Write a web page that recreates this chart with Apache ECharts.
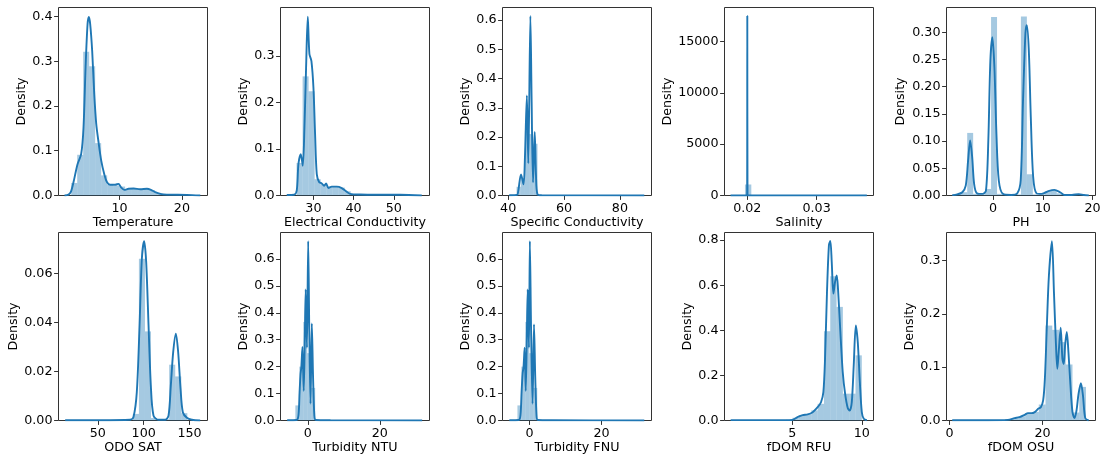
<!DOCTYPE html>
<html>
<head>
<meta charset="utf-8">
<script src="https://cdn.jsdelivr.net/npm/echarts@6/dist/echarts.min.js"></script>
<style>
  html, body { margin: 0; padding: 0; background: #fff; }
  #chart { width: 1107px; height: 459px; }
</style>
</head>
<body>
<div id="chart"></div>
<script>
// Variable names, in panel order (row by row)
const variableNames = ['Temperature', 'Electrical Conductivity', 'Specific Conductivity', 'Salinity', 'PH',
                       'ODO SAT', 'Turbidity NTU', 'Turbidity FNU', 'fDOM RFU', 'fDOM OSU'];

// ---- Temperature ----
const tempBinStart = 2.25, tempBinWidth = 0.96;
const tempDensity = [0.028, 0.091, 0.321, 0.289, 0.117, 0.045, 0.024, 0.022, 0.020, 0.014,
                     0.015, 0.014, 0.015, 0.012, 0.006, 0.003, 0.002, 0.001, 0.001, 0.001];
const tempKde = [[1.18,0],[1.82,0.002],[2.19,0.008],[2.62,0.03],[3.26,0.07],[3.85,0.093],[4.22,0.152],
  [4.55,0.286],[4.87,0.383],[5.08,0.399],[5.29,0.383],[5.61,0.323],[5.94,0.227],[6.26,0.16],[6.63,0.119],
  [7.06,0.078],[7.54,0.048],[7.97,0.03],[8.5,0.024],[9.3,0.024],[9.84,0.026],[10.21,0.0186],[10.75,0.0126],
  [11.44,0.015],[12.25,0.0156],[13.32,0.014],[14.39,0.015],[15.03,0.0126],[15.72,0.0074],[16.52,0.0037],
  [17.59,0.002],[20.8,0.0015],[22.94,0]];
const tempXRange = [0.21, 24.1], tempXTicks = [10, 20];
const tempYMax = 0.42, tempYTicks = [0, 0.1, 0.2, 0.3, 0.4];

// ---- Electrical Conductivity ----
const ecBinStart = 25.8, ecBinWidth = 1.5;
const ecDensity = [0.07, 0.256, 0.224, 0.035, 0.024, 0.02, 0.019, 0.017, 0.009, 0.003,
                   0.002, 0.002, 0.001, 0.001, 0.001, 0.001, 0.001, 0.001, 0.001];
const ecKde = [[23.36,0.001],[25.19,0.0015],[25.85,0.011],[26.27,0.068],[26.85,0.089],[27.34,0.064],
  [27.76,0.146],[28.17,0.275],[28.59,0.384],[29.0,0.304],[29.5,0.289],[30.0,0.232],[30.41,0.132],
  [30.83,0.046],[31.41,0.029],[32.07,0.026],[32.66,0.021],[33.15,0.026],[33.73,0.016],[34.56,0.019],
  [35.81,0.019],[37.05,0.016],[38.13,0.009],[39.13,0.0036],[41.62,0.002],[45.77,0.0015],[51.58,0.0015],[56.97,0]];
const ecXRange = [21.8, 58.9], ecXTicks = [30, 40, 50];
const ecYMax = 0.404, ecYTicks = [0, 0.1, 0.2, 0.3];

// ---- Specific Conductivity ----
const scBinStart = 43.0, scBinWidth = 1.5;
const scDensity = [0.03, 0.06, 0.22, 0.21, 0.177];
const scKde = [[40.36,0.001],[43.2,0.002],[43.6,0.015],[44.6,0.072],[45.5,0.038],[46.0,0.13],[46.7,0.342],
  [47.2,0.11],[47.95,0.614],[48.4,0.32],[48.9,0.045],[49.5,0.217],[49.95,0.07],[50.5,0.004],[52,0.001],[88.72,0]];
const scXRange = [37.97, 91.3], scXTicks = [40, 60, 80];
const scYMax = 0.643, scYTicks = [0, 0.1, 0.2, 0.3, 0.4, 0.5, 0.6];

// ---- Salinity ----
const salBinStart = 0.01966, salBinWidth = 0.00092;
const salDensity = [1071];
const salKde = [[0.01758,0],[0.01997,0],[0.02,17470],[0.02003,0],[0.03725,0]];
const salXRange = [0.01671, 0.03821], salXTicks = [0.02, 0.03];
const salYMax = 18300, salYTicks = [0, 5000, 10000, 15000];

// ---- PH ----
const phBinStart = -7.6, phBinWidth = 1.2;
const phDensity = [0.003, 0.006, 0.115, 0.003, 0.002, 0.012, 0.328, 0.003, 0.001, 0.001, 0.002,
                   0.329, 0.039, 0.002, 0.002, 0.008, 0.01, 0.004, 0.001, 0.001, 0.002, 0.001];
const phKde = [[-8.2,0.0006],[-7.19,0.002],[-6.17,0.006],[-5.49,0.018],[-5.02,0.064],[-4.61,0.101],[-4.2,0.0705],
  [-3.8,0.021],[-3.25,0.0043],[-2.1,0.003],[-1.42,0.009],[-0.95,0.101],[-0.54,0.248],[-0.14,0.291],[0.27,0.236],
  [0.68,0.113],[1.15,0.028],[1.97,0.003],[3.66,0.001],[4.88,0.004],[5.56,0.028],[6.03,0.175],[6.51,0.298],
  [6.78,0.313],[7.19,0.267],[7.59,0.144],[8.07,0.034],[8.75,0.004],[9.76,0.003],[11.12,0.008],[12.34,0.0104],
  [13.49,0.006],[14.37,0.001],[15.86,0.001],[17.22,0.0025],[18.24,0.001],[19.25,0]];
const phXRange = [-9.36, 20.6], phXTicks = [0, 10, 20];
const phYMax = 0.3454, phYTicks = [0, 0.05, 0.1, 0.15, 0.2, 0.25, 0.3];

// ---- ODO SAT ----
const odoBinStart = 88.2, odoBinWidth = 6.6;
const odoDensity = [0.0027, 0.0661, 0.0364, 0.001, 0.0003, 0.0005, 0.0228, 0.018, 0.003];
const odoKde = [[14.36,0.0001],[52.5,0.0001],[85.3,0.0003],[88.9,0.0014],[92.5,0.0116],[95.5,0.0389],[98.0,0.066],
  [100.5,0.0732],[102.7,0.0648],[105.3,0.0389],[107.8,0.0143],[110.7,0.002],[116.2,0.0003],[123.5,0.0003],
  [127.1,0.002],[129.6,0.0143],[132.2,0.028],[135.1,0.0355],[137.6,0.028],[140.2,0.013],[142.7,0.0034],
  [147.1,0.0011],[152.5,0.0003],[161.6,0]];
const odoXRange = [7.1, 169.6], odoXTicks = [50, 100, 150];
const odoYMax = 0.0768, odoYTicks = [0, 0.02, 0.04, 0.06];

// ---- Turbidity NTU ----
const ntuBinStart = -3.47, ntuBinWidth = 1.1;
const ntuDensity = [0.056, 0.2, 0.366, 0.25, 0.121];
const ntuKde = [[-5.74,0.001],[-3.15,0.002],[-2.6,0.02],[-2.3,0.105],[-2.04,0.17],[-1.8,0.2],[-1.5,0.273],
  [-1.15,0.11],[-0.85,0.3],[-0.6,0.487],[-0.25,0.27],[0.09,0.666],[0.4,0.33],[0.74,0.062],[1.1,0.36],
  [1.45,0.16],[1.8,0.02],[2.2,0.002],[6.3,0.001],[31.76,0]];
const ntuXRange = [-7.6, 33.8], ntuXTicks = [0, 20];
const ntuYMax = 0.698, ntuYTicks = [0, 0.1, 0.2, 0.3, 0.4, 0.5, 0.6];

// ---- Turbidity FNU ----
const fnuBinStart = -3.35, fnuBinWidth = 1.1;
const fnuDensity = [0.056, 0.2, 0.366, 0.25, 0.121];
const fnuKde = [[-5.6,0.001],[-3.0,0.002],[-2.5,0.02],[-2.2,0.105],[-1.9,0.175],[-1.65,0.2],[-1.35,0.27],
  [-1.05,0.11],[-0.75,0.3],[-0.5,0.487],[-0.15,0.27],[0.1,0.666],[0.45,0.33],[0.85,0.062],[1.25,0.357],
  [1.6,0.16],[1.95,0.02],[2.3,0.002],[6.3,0.001],[31.9,0]];
const fnuXRange = [-7.5, 33.9], fnuXTicks = [0, 20];
const fnuYMax = 0.698, fnuYTicks = [0, 0.1, 0.2, 0.3, 0.4, 0.5, 0.6];

// ---- fDOM RFU ----
const rfuBinStart = 0.94, rfuBinWidth = 0.453;
const rfuDensity = [0.001, 0.001, 0.001, 0.001, 0.001, 0.001, 0.001, 0.001, 0.003, 0.012,
                    0.024, 0.028, 0.045, 0.074, 0.396, 0.64, 0.504, 0.119, 0.119, 0.289];
const rfuKde = [[0.58,0.0015],[2.02,0.0015],[4.42,0.0015],[5.02,0.003],[5.38,0.015],[5.75,0.024],[6.11,0.027],
  [6.47,0.037],[6.83,0.059],[7.07,0.081],[7.24,0.126],[7.36,0.274],[7.5,0.57],[7.64,0.778],[7.74,0.796],
  [7.84,0.704],[7.96,0.563],[8.08,0.615],[8.2,0.644],[8.29,0.585],[8.46,0.393],[8.63,0.215],[8.8,0.119],
  [8.99,0.055],[9.13,0.044],[9.28,0.081],[9.42,0.244],[9.57,0.422],[9.71,0.348],[9.86,0.17],[10.0,0.037],
  [10.14,0.0074],[10.36,0.001]];
const rfuXRange = [0.14, 10.84], rfuXTicks = [5, 10];
const rfuYMax = 0.834, rfuYTicks = [0, 0.2, 0.4, 0.6, 0.8];

// ---- fDOM OSU ----
const osuBinStart = 1.8, osuBinWidth = 1.45;
const osuDensity = [0.001, 0.001, 0.001, 0.001, 0.001, 0.001, 0.001, 0.002, 0.004, 0.008,
                    0.013, 0.016, 0.03, 0.178, 0.17, 0.147, 0.105, 0.015, 0.063];
const osuKde = [[0.58,0.0006],[8.19,0.0006],[12.54,0.0012],[13.99,0.0044],[15.07,0.0063],[16.16,0.0106],
  [16.88,0.0138],[17.61,0.0138],[18.33,0.0157],[19.06,0.022],[19.64,0.025],[20.14,0.0376],[20.51,0.078],
  [20.94,0.178],[21.38,0.272],[22.03,0.336],[22.46,0.241],[22.9,0.141],[23.19,0.097],[23.48,0.128],
  [23.91,0.174],[24.28,0.116],[24.57,0.106],[24.86,0.141],[25.22,0.166],[25.58,0.128],[26.01,0.066],
  [26.45,0.0157],[26.88,0.0044],[27.32,0.019],[27.75,0.05],[28.26,0.07],[28.7,0.047],[29.2,0.0044],[29.93,0]];
const osuXRange = [-0.65, 31.4], osuXTicks = [0, 20];
const osuYMax = 0.3525, osuYTicks = [0, 0.1, 0.2, 0.3];

// Assemble per-panel settings from the arrays above
const panels = [
  { hist: [tempBinStart, tempBinWidth, tempDensity], kde: tempKde, xr: tempXRange, xt: tempXTicks, xd: 0, ym: tempYMax, yt: tempYTicks, yd: 1, gap: 30 },
  { hist: [ecBinStart, ecBinWidth, ecDensity], kde: ecKde, xr: ecXRange, xt: ecXTicks, xd: 0, ym: ecYMax, yt: ecYTicks, yd: 1, gap: 30 },
  { hist: [scBinStart, scBinWidth, scDensity], kde: scKde, xr: scXRange, xt: scXTicks, xd: 0, ym: scYMax, yt: scYTicks, yd: 1, gap: 30 },
  { hist: [salBinStart, salBinWidth, salDensity], kde: salKde, xr: salXRange, xt: salXTicks, xd: 2, ym: salYMax, yt: salYTicks, yd: 0, gap: 50 },
  { hist: [phBinStart, phBinWidth, phDensity], kde: phKde, xr: phXRange, xt: phXTicks, xd: 0, ym: phYMax, yt: phYTicks, yd: 2, gap: 39 },
  { hist: [odoBinStart, odoBinWidth, odoDensity], kde: odoKde, xr: odoXRange, xt: odoXTicks, xd: 0, ym: odoYMax, yt: odoYTicks, yd: 2, gap: 38 },
  { hist: [ntuBinStart, ntuBinWidth, ntuDensity], kde: ntuKde, xr: ntuXRange, xt: ntuXTicks, xd: 0, ym: ntuYMax, yt: ntuYTicks, yd: 1, gap: 30 },
  { hist: [fnuBinStart, fnuBinWidth, fnuDensity], kde: fnuKde, xr: fnuXRange, xt: fnuXTicks, xd: 0, ym: fnuYMax, yt: fnuYTicks, yd: 1, gap: 30 },
  { hist: [rfuBinStart, rfuBinWidth, rfuDensity], kde: rfuKde, xr: rfuXRange, xt: rfuXTicks, xd: 0, ym: rfuYMax, yt: rfuYTicks, yd: 1, gap: 30 },
  { hist: [osuBinStart, osuBinWidth, osuDensity], kde: osuKde, xr: osuXRange, xt: osuXTicks, xd: 0, ym: osuYMax, yt: osuYTicks, yd: 1, gap: 30 }
];

const FONT = 'DejaVu Sans';
const FS = 12.7;
const SPINE = '#333333';
const BLUE = '#1f77b4';
const BAR_FILL = 'rgba(31,119,180,0.4)';

const grids = [], xAxes = [], yAxes = [], series = [];

panels.forEach((p, i) => {
  const row = Math.floor(i / 5), col = i % 5;
  grids.push({
    left: 58.5 + 222 * col, top: row === 0 ? 7.5 : 232.5, width: 149, height: 188,
    show: true, borderColor: SPINE, borderWidth: 1, backgroundColor: 'transparent', containLabel: false
  });
  xAxes.push({
    type: 'value', gridIndex: i, min: p.xr[0], max: p.xr[1],
    axisLine: { show: false, onZero: false },
    splitLine: { show: false },
    axisTick: { show: true, length: 4.4, lineStyle: { color: SPINE, width: 1 }, customValues: p.xt },
    axisLabel: { customValues: p.xt, color: '#000', fontFamily: FONT, fontSize: FS, margin: 7,
                 formatter: v => Number(v).toFixed(p.xd) },
    name: variableNames[i], nameLocation: 'middle', nameGap: 21,
    nameTextStyle: { color: '#000', fontFamily: FONT, fontSize: FS }
  });
  yAxes.push({
    type: 'value', gridIndex: i, min: 0, max: p.ym,
    axisLine: { show: false, onZero: false },
    splitLine: { show: false },
    axisTick: { show: true, length: 4.4, lineStyle: { color: SPINE, width: 1 }, customValues: p.yt },
    axisLabel: { customValues: p.yt, color: '#000', fontFamily: FONT, fontSize: FS, margin: 6,
                 formatter: v => Number(v).toFixed(p.yd) },
    name: 'Density', nameLocation: 'middle', nameGap: p.gap,
    nameTextStyle: { color: '#000', fontFamily: FONT, fontSize: FS }
  });

  // Histogram bars: [left edge, right edge, density]
  const [start, width, dens] = p.hist;
  const bins = dens.map((d, k) => [start + k * width, start + (k + 1) * width, d]);
  series.push({
    type: 'custom', xAxisIndex: i, yAxisIndex: i, data: bins, silent: true, animation: false,
    encode: { x: [0, 1], y: 2 },
    renderItem: (params, api) => {
      const a = api.coord([api.value(0), api.value(2)]);
      const b = api.coord([api.value(1), 0]);
      return { type: 'rect', shape: { x: a[0], y: a[1], width: b[0] - a[0], height: b[1] - a[1] },
               style: { fill: BAR_FILL } };
    },
    z: 2
  });

  // Density curve
  series.push({
    type: 'line', xAxisIndex: i, yAxisIndex: i, data: p.kde, symbol: 'none', showSymbol: false,
    smooth: 0.3, lineStyle: { color: BLUE, width: 1.9 }, silent: true, animation: false, z: 3
  });
});

const chart = echarts.init(document.getElementById('chart'), null, { renderer: 'canvas' });
chart.setOption({ animation: false, grid: grids, xAxis: xAxes, yAxis: yAxes, series: series });
</script>
</body>
</html>
